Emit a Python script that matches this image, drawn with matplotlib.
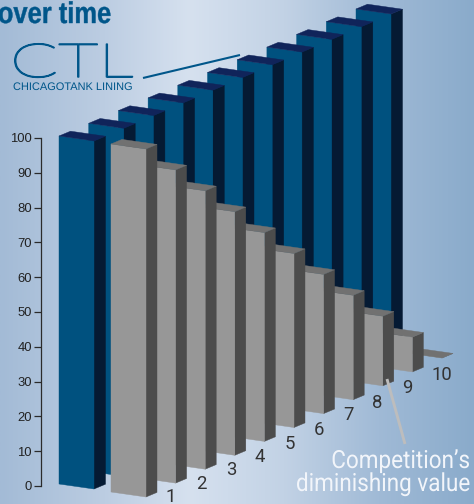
import numpy as np
import matplotlib
matplotlib.use("Agg")
import matplotlib.pyplot as plt
from matplotlib.patches import Polygon
from matplotlib.patheffects import AbstractPathEffect
from matplotlib.transforms import Affine2D
from matplotlib.colors import LinearSegmentedColormap

# ---------- data ----------
years = [0, 1, 2, 3, 4, 5, 6, 7, 8, 9, 10]
ctl_values = [100, 100, 100, 100, 100, 100, 100, 100, 100, 100, 100]
competition_values = [100, 90, 80, 70, 60, 50, 40, 30, 20, 10, 0]
y_ticks = [0, 10, 20, 30, 40, 50, 60, 70, 80, 90, 100]
year_labels = ["1", "2", "3", "4", "5", "6", "7", "8", "9", "10"]

W, H = 474, 504
PX = 0.72
fig = plt.figure(figsize=(W / 100, H / 100), dpi=100)
ax = fig.add_axes([0, 0, 1, 1])
ax.set_xlim(0, W)
ax.set_ylim(H, 0)
ax.axis("off")

# ---------- background ----------
cmap = LinearSegmentedColormap.from_list(
    "bg", [(0, "#a3bbd6"), (0.22, "#bccde2"), (0.40, "#d6e1ef"), (0.60, "#c2d2e5"),
           (0.80, "#a0bad6"), (1, "#8aabcb")])
ax.imshow(np.linspace(0, 1, 256)[None, :], cmap=cmap, aspect="auto",
          extent=(0, W, H, 0), zorder=0)


class StretchX(AbstractPathEffect):
    """Squeeze or widen a text horizontally around its anchor, optionally thickening it."""
    def __init__(self, sx, x_anchor, stroke=0.0):
        super().__init__()
        self.sx, self.x0, self.stroke = sx, x_anchor, stroke

    def draw_path(self, renderer, gc, tpath, affine, rgbFace=None):
        t = affine + Affine2D().translate(-self.x0, 0).scale(self.sx, 1).translate(self.x0, 0)
        gc0 = renderer.new_gc()
        gc0.copy_properties(gc)
        if self.stroke:
            gc0.set_linewidth(self.stroke)
            gc0.set_foreground(rgbFace)
        else:
            gc0.set_linewidth(0)
        renderer.draw_path(gc0, tpath, t, rgbFace)
        gc0.restore()


PXU = 3.48          # pixels per value unit


def bar3d(i, v, origin, step, width, depth, cols, z):
    front, top, side = cols
    x0 = origin[0] + i * step[0]
    y0 = origin[1] + i * step[1]
    h = v * PXU
    w, d = width, depth
    bl = np.array([x0, y0]); br = bl + w
    tl = bl - [0, h]; tr = br - [0, h]
    ax.add_patch(Polygon([br, br + d, tr + d, tr], fc=side, ec=side, lw=0.3, zorder=z))
    ax.add_patch(Polygon([bl, br, tr, tl], fc=front, ec=front, lw=0.3, zorder=z))
    ax.add_patch(Polygon([tl, tr, tr + d, tl + d], fc=top, ec=top, lw=0.3, zorder=z))


BLUE = ("#00517f", "#10245a", "#051a33")
GRAY = ("#979797", "#717171", "#4c4c4c")
w_ = np.array([35, 5.0])

# leader line from the logo (behind bars)
ax.plot([143, 240], [78, 55], color="#00568a", lw=1.6 * PX * 1.3, zorder=2, solid_capstyle="butt")

for n, (i, v) in enumerate(reversed(list(zip(years, ctl_values)))):
    bar3d(i, v, (59, 484), (29.7, -12.7), w_, np.array([11.5, -4.8]), BLUE, 3 + n * 0.01)
for n, (i, v) in enumerate(reversed(list(zip(years, competition_values)))):
    bar3d(i, v, (111, 492), (29.6, -13.9), w_, np.array([11, -4.6]), GRAY, 4 + n * 0.01)

# ---------- y axis ----------
y_top, y_bot = 138, 486
ay = fig.add_axes([41 / W, 1 - y_bot / H, 1 / W, (y_bot - y_top) / H])
ay.patch.set_alpha(0)
ay.set_ylim(0, 100)
ay.set_xticks([])
ay.set_yticks(y_ticks)
for s in ("top", "right", "bottom"):
    ay.spines[s].set_visible(False)
ay.spines["left"].set_color("#2b2b2b")
ay.spines["left"].set_linewidth(0.9)
ay.tick_params(axis="y", length=5, width=0.9, color="#2b2b2b", pad=1.5, labelcolor="#222222")
for t in ay.get_yticklabels():
    t.set_fontfamily("Liberation Sans")
    t.set_fontsize(13 * PX)

# ---------- category labels ----------
lab_xy = [(171, 497), (201, 484), (231, 470), (260, 457), (290, 444), (319, 430),
          (348, 415), (377, 403), (407, 388), (442, 375)]
for s, (x, y) in zip(year_labels, lab_xy):
    ax.text(x, y, s, ha="center", va="center", family="Roboto", fontsize=18.5 * PX,
            color="#333333", zorder=6)

# ---------- title and logo ----------
t = ax.text(111, 23, "over time", ha="right", va="baseline", family="Liberation Sans",
            fontweight="bold", fontsize=30 * PX, color="#00568a", zorder=6)
t.set_path_effects([StretchX(0.85, 111, stroke=0.3)])
t = ax.text(10, 77, "CTL", ha="left", va="baseline", family="Lato", fontweight="light",
            fontsize=47 * PX, color="#00568a", zorder=6)
t.set_path_effects([StretchX(1.5, 10, stroke=1.1)])
t = ax.text(13, 90, "CHICAGOTANK LINING", ha="left", va="baseline", family="Liberation Sans",
            fontsize=11 * PX, color="#00568a", zorder=6)
t.set_path_effects([StretchX(1.0, 13)])

# ---------- annotation ----------
ax.plot([387, 405], [379, 444], color="#bdbdbd", lw=2.4 * PX * 1.2, zorder=5, solid_capstyle="butt")
for s, yb, x0 in (("Competition\u2019s", 468, 470), ("diminishing value", 491, 470)):
    t = ax.text(x0, yb, s, ha="right", va="baseline", family="Roboto", fontsize=25 * PX,
                color="#f2f5fa", zorder=6)
    t.set_path_effects([StretchX(0.9, x0)])

fig.savefig("out.png", dpi=100)
